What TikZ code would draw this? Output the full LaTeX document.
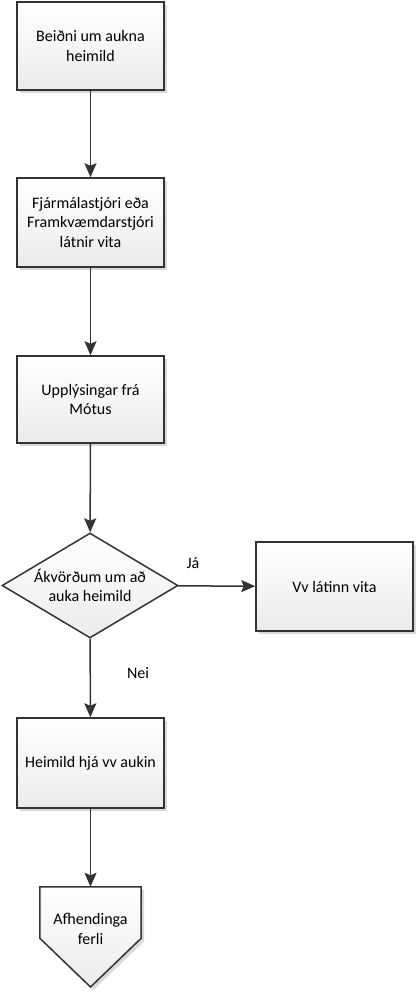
\documentclass[tikz,border=0pt]{standalone}
\usepackage{fontspec}
\setmainfont{Carlito}
\usetikzlibrary{arrows.meta,shadows,shapes.geometric}
\definecolor{edge}{HTML}{333333}
\definecolor{shade}{HTML}{EBEBEB}
\tikzset{
  boxstyle/.style={draw=edge, line width=1.5pt, top color=white, bottom color=shade,
    drop shadow={shadow xshift=3pt, shadow yshift=-3pt, fill=black!15, opacity=1},
    align=center, font=\fontsize{16}{19.5}\selectfont, inner sep=2pt},
  conn/.style={draw=edge, line width=1.5pt, -{Stealth[length=14pt,width=12pt,inset=2.5pt]}},
  lbl/.style={font=\fontsize{16}{19.5}\selectfont, inner sep=0pt}
}
\begin{document}
\begin{tikzpicture}[x=1pt,y=-1pt]
\useasboundingbox (0,0) rectangle (417,992);
\node[boxstyle, minimum width=147pt, minimum height=88pt] (b1) at (90.5,46) {Beiðni um aukna\\heimild};
\node[boxstyle, minimum width=147pt, minimum height=89pt] (b2) at (90.5,222.5) {Fjármálastjóri eða\\Framkvæmdarstjóri\\látnir vita};
\node[boxstyle, minimum width=147pt, minimum height=87pt] (b3) at (90.5,399.5) {Upplýsingar frá\\Mótus};
\node[draw=edge, line width=1.5pt, top color=white, bottom color=shade, align=center, font=\fontsize{16}{19.5}\selectfont, diamond, aspect=1.676, minimum width=176pt, minimum height=105pt, inner sep=0pt] (d) at (90,585.5) {Ákvörðum um að\\auka heimild};
\node[boxstyle, minimum width=157pt, minimum height=89pt] (vv) at (334.5,586.5) {Vv látinn vita};
\node[boxstyle, minimum width=147pt, minimum height=90pt] (b4) at (90.5,763) {Heimild hjá vv aukin};
% off-page connector (pentagon)
\node[minimum width=101pt, minimum height=51pt, inner sep=0pt] (p) at (90.5,912.5) {};
\fill[black!15] ([shift={(3,3)}]p.north west) -- ([shift={(3,3)}]p.north east) -- ([shift={(3,3)}]p.south east) -- ([shift={(3,3)}]p.south |- 0,987) -- ([shift={(3,3)}]p.south west) -- cycle;
\path[draw=edge, line width=1.5pt, top color=white, bottom color=shade] (p.north west) -- (p.north east) -- (p.south east) -- (p.south |- 0,987) -- (p.south west) -- cycle;
\node[align=center, font=\fontsize{16}{19.5}\selectfont] (pt) at (90.5,929) {Afhendinga\\ferli};
% connectors
\draw[conn] (b1) -- (b2);
\draw[conn] (b2) -- (b3);
\draw[conn] (b3) -- (d);
\draw[conn] (d) -- (vv);
\draw[conn] (d) -- (b4);
\draw[conn] (b4) -- (p.north);
\node[lbl] (ja) at (193,563) {Já};
\node[lbl] (nei) at (138,673) {Nei};
\end{tikzpicture}
\end{document}
